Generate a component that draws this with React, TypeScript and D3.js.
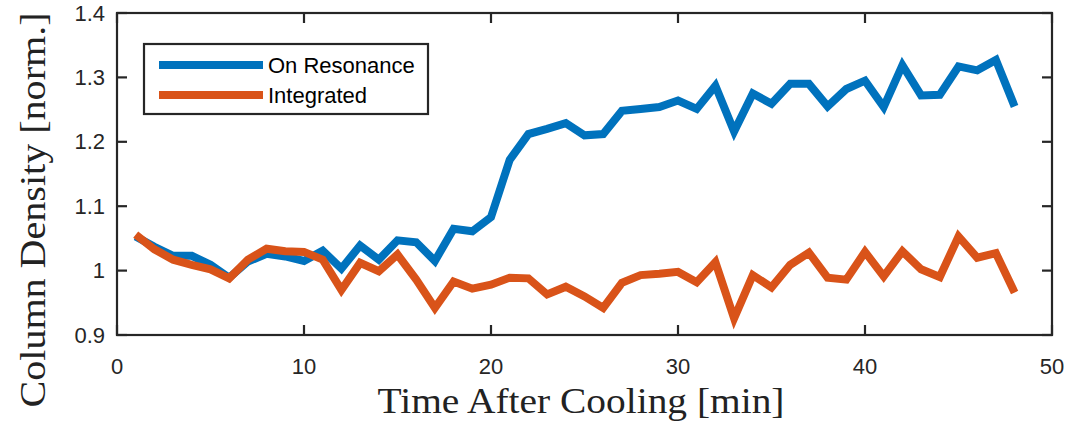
import React from "react";
import * as d3 from "d3";

const times = d3.range(1, 49);
const onResonance = [
  1.053, 1.037, 1.023, 1.023, 1.009, 0.989, 1.014, 1.026, 1.022, 1.015,
  1.031, 1.003, 1.039, 1.017, 1.047, 1.044, 1.015, 1.065, 1.061, 1.083,
  1.172, 1.212, 1.22, 1.229, 1.21, 1.212, 1.248, 1.251, 1.254, 1.264,
  1.251, 1.287, 1.216, 1.275, 1.259, 1.29, 1.29, 1.255, 1.282, 1.295,
  1.254, 1.319, 1.272, 1.273, 1.317, 1.311, 1.327, 1.255,
];
const integrated = [
  1.056, 1.033, 1.017, 1.009, 1.002, 0.988, 1.017, 1.034, 1.03, 1.029,
  1.017, 0.97, 1.012, 0.999, 1.025, 0.986, 0.942, 0.983, 0.972, 0.978,
  0.989, 0.988, 0.963, 0.975, 0.96, 0.942, 0.981, 0.993, 0.995, 0.998,
  0.982, 1.013, 0.926, 0.993, 0.974, 1.009, 1.028, 0.989, 0.986, 1.029,
  0.991, 1.03, 1.002, 0.99, 1.053, 1.02, 1.027, 0.966,
];
const xTicks = [0, 10, 20, 30, 40, 50];
const yTicks = [0.9, 1.0, 1.1, 1.2, 1.3, 1.4];
const seriesNames = ["On Resonance", "Integrated"];
const colors = ["#0072BD", "#D95319"];

const W = 1069, H = 425;
const L = 117, R = 1052, T = 13, B = 335;

export default function App() {
  const x = d3.scaleLinear().domain([0, 50]).range([L, R]);
  const y = d3.scaleLinear().domain([0.9, 1.4]).range([B, T]);
  const line = d3
    .line<number>()
    .x((_, i) => x(times[i]))
    .y((d) => y(d));
  const series = [onResonance, integrated];
  const axisColor = "#262626";
  const tickLen = 10;
  const sans = "'Liberation Sans', Arial, sans-serif";
  const serif = "'Liberation Serif', 'Times New Roman', serif";
  return (
    <svg
      width={W}
      height={H}
      style={{ position: "absolute", left: 0, top: 0, background: "#fff" }}
    >
      <rect x={0} y={0} width={W} height={H} fill="#fff" />
      <defs>
        <clipPath id="plot">
          <rect x={L} y={T} width={R - L} height={B - T} />
        </clipPath>
      </defs>
      <g clipPath="url(#plot)">
        {series.map((s, i) => (
          <path
            key={i}
            d={line(s) || ""}
            fill="none"
            stroke={colors[i]}
            strokeWidth={8}
            strokeLinejoin="miter"
            strokeMiterlimit={10}
          />
        ))}
      </g>
      <rect x={L} y={T} width={R - L} height={B - T} fill="none" stroke={axisColor} strokeWidth={2.2} />
      {xTicks.map((t) => (
        <g key={"x" + t}>
          <line x1={x(t)} x2={x(t)} y1={B} y2={B - tickLen} stroke={axisColor} strokeWidth={2.2} />
          <line x1={x(t)} x2={x(t)} y1={T} y2={T + tickLen} stroke={axisColor} strokeWidth={2.2} />
          <text
            x={x(t)}
            y={366}
            textAnchor="middle"
            dominantBaseline="central"
            fontFamily={sans}
            fontSize={22}
            fill={axisColor}
          >
            {t}
          </text>
        </g>
      ))}
      {yTicks.map((t) => (
        <g key={"y" + t}>
          <line x1={L} x2={L + tickLen} y1={y(t)} y2={y(t)} stroke={axisColor} strokeWidth={2.2} />
          <line x1={R} x2={R - tickLen} y1={y(t)} y2={y(t)} stroke={axisColor} strokeWidth={2.2} />
          <text
            x={L - 12}
            y={y(t)}
            textAnchor="end"
            dominantBaseline="central"
            fontFamily={sans}
            fontSize={22}
            fill={axisColor}
          >
            {d3.format("~g")(t)}
          </text>
        </g>
      ))}
      <text
        x={581}
        y={413}
        textAnchor="middle"
        fontFamily={serif}
        fontSize={36}
        textLength={407}
        lengthAdjust="spacingAndGlyphs"
        fill="#222"
      >
        Time After Cooling [min]
      </text>
      <text
        transform={`translate(45, 210) rotate(-90)`}
        textAnchor="middle"
        fontFamily={serif}
        fontSize={36}
        textLength={395}
        lengthAdjust="spacingAndGlyphs"
        fill="#222"
      >
        Column Density [norm.]
      </text>
      <rect x={144} y={44} width={284} height={70} fill="#fff" stroke={axisColor} strokeWidth={2.2} />
      {seriesNames.map((n, i) => (
        <g key={n}>
          <line x1={159} x2={263} y1={65 + i * 30} y2={65 + i * 30} stroke={colors[i]} strokeWidth={8} />
          <text
            x={268}
            y={65 + i * 30}
            dominantBaseline="central"
            fontFamily={sans}
            fontSize={22}
            fill="#000"
          >
            {n}
          </text>
        </g>
      ))}
    </svg>
  );
}
